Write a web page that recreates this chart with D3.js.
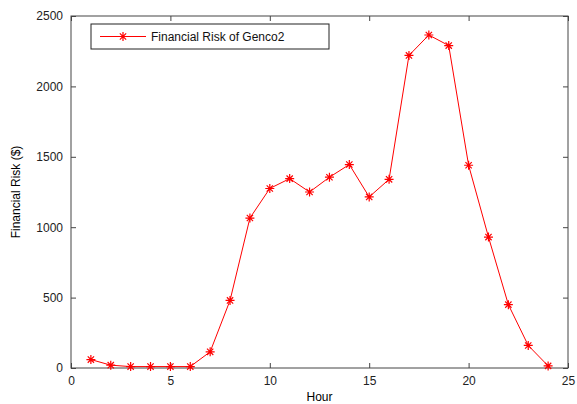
<!DOCTYPE html>
<html>
<head>
<meta charset="utf-8">
<script src="https://cdn.jsdelivr.net/npm/d3@7"></script>
<style>
  body { margin: 0; background: #fff; }
  text { font-family: "Liberation Sans", Arial, sans-serif; }
</style>
</head>
<body>
<div class="canvas"></div>
<script>
const hours = d3.range(1, 25);
const risk = [60, 20, 10, 10, 10, 10, 115, 480, 1065, 1275, 1345, 1250,
  1355, 1445, 1215, 1340, 2220, 2365, 2290, 1440, 930, 450, 160, 15];
const xTicks = [0, 5, 10, 15, 20, 25];
const yTicks = [0, 500, 1000, 1500, 2000, 2500];
const seriesName = 'Financial Risk of Genco2';

const dims = { width: 577, height: 404 };
const margin = { top: 16, right: 9, bottom: 36, left: 71 };
const graphWidth = dims.width - margin.left - margin.right;
const graphHeight = dims.height - margin.top - margin.bottom;

const svg = d3.select('.canvas').append('svg')
  .attr('width', dims.width)
  .attr('height', dims.height);

const graph = svg.append('g')
  .attr('transform', `translate(${margin.left}, ${margin.top})`);

const x = d3.scaleLinear().domain([0, 25]).range([0, graphWidth]);
const y = d3.scaleLinear().domain([0, 2500]).range([graphHeight, 0]);

// axes, ticks point inward
const styleAxis = g => {
  g.select('.domain').remove();
  g.selectAll('line').attr('stroke', '#444');
  g.selectAll('text').attr('fill', '#222').style('font-size', '12px');
};

graph.append('g')
  .attr('transform', `translate(0, ${graphHeight})`)
  .call(d3.axisBottom(x).tickValues(xTicks).tickSize(-5).tickPadding(8).tickFormat(d3.format('d')))
  .call(styleAxis);

graph.append('g')
  .call(d3.axisTop(x).tickValues(xTicks).tickSize(-5).tickFormat(''))
  .call(styleAxis);

graph.append('g')
  .call(d3.axisLeft(y).tickValues(yTicks).tickSize(-5).tickPadding(8).tickFormat(d3.format('d')))
  .call(styleAxis);

graph.append('g')
  .attr('transform', `translate(${graphWidth}, 0)`)
  .call(d3.axisRight(y).tickValues(yTicks).tickSize(-5).tickFormat(''))
  .call(styleAxis);

// frame
graph.append('rect')
  .attr('width', graphWidth)
  .attr('height', graphHeight)
  .attr('fill', 'none')
  .attr('stroke', '#444')
  .attr('stroke-width', 1);

// axis labels
svg.append('text')
  .attr('x', margin.left + graphWidth / 2)
  .attr('y', dims.height - 3)
  .attr('text-anchor', 'middle')
  .style('font-size', '12px')
  .text('Hour');

svg.append('text')
  .attr('transform', `translate(20, ${margin.top + graphHeight / 2}) rotate(-90)`)
  .attr('text-anchor', 'middle')
  .style('font-size', '12px')
  .text('Financial Risk ($)');

const points = hours.map((h, i) => ({ h, v: risk[i] }));

const line = d3.line().x(d => x(d.h)).y(d => y(d.v));

graph.append('path')
  .datum(points)
  .attr('d', line)
  .attr('fill', 'none')
  .attr('stroke', 'red')
  .attr('stroke-width', 1);

// asterisk marker
const star = (g, r) => {
  g.append('path')
    .attr('d', `M${-r},0H${r}M0,${-r}V${r}` +
      `M${-r * 0.7},${-r * 0.7}L${r * 0.7},${r * 0.7}M${-r * 0.7},${r * 0.7}L${r * 0.7},${-r * 0.7}`)
    .attr('stroke', 'red')
    .attr('stroke-width', 1.2)
    .attr('fill', 'none');
};

graph.selectAll('g.mark')
  .data(points)
  .enter()
  .append('g')
    .attr('class', 'mark')
    .attr('transform', d => `translate(${x(d.h)}, ${y(d.v)})`)
    .each(function() { star(d3.select(this), 4.5); });

// legend
const legend = graph.append('g').attr('transform', 'translate(20, 8)');
legend.append('rect')
  .attr('width', 238)
  .attr('height', 25)
  .attr('fill', '#fff')
  .attr('stroke', '#222');
legend.append('line')
  .attr('x1', 9).attr('x2', 55)
  .attr('y1', 12.5).attr('y2', 12.5)
  .attr('stroke', 'red');
star(legend.append('g').attr('transform', 'translate(32, 12.5)'), 4.5);
legend.append('text')
  .attr('x', 60)
  .attr('y', 17)
  .style('font-size', '12px')
  .attr('fill', '#111')
  .text(seriesName);
</script>
</body>
</html>
